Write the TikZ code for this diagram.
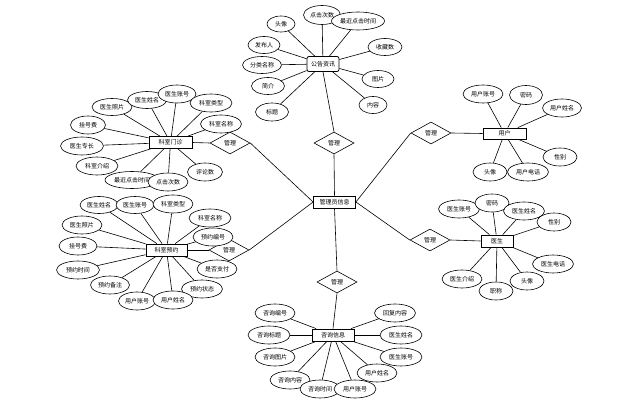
\documentclass[tikz,border=0pt]{standalone}
\usepackage{fontspec}
\newfontfamily\cjk{Noto Sans CJK SC}
\usetikzlibrary{shapes.geometric,backgrounds}
\begin{document}
\begin{tikzpicture}[x=1pt,y=-1pt,
  every node/.style={font=\cjk\fontsize{6}{7}\selectfont, inner sep=0pt},
  ent/.style={draw, fill=white, line width=0.8pt, minimum width=42pt, minimum height=12pt},
  attr/.style={draw, ellipse, fill=white, line width=0.6pt, minimum width=40pt, minimum height=18pt},
  rel/.style={draw, diamond, fill=white, line width=0.6pt, minimum width=40pt, minimum height=22pt},
  conn/.style={line width=0.6pt}]
\useasboundingbox (0,0) rectangle (625,409);

% center
\node[ent] (adm) at (334.5,202) {管理员信息};
% relations
\node[rel] (r1) at (334,143) {管理};
\node[rel] (r2) at (230,143) {管理};
\node[rel] (r3) at (229,250) {管理};
\node[rel] (r4) at (431,133) {管理};
\node[rel] (r5) at (430,240) {管理};
\node[rel] (r6) at (337,282) {管理};
% entities
\node[ent, rounded corners=2pt, minimum width=32pt, minimum height=15pt] (news) at (323,64) {公告资讯};
\node[ent, minimum width=43pt] (dept) at (170.5,142.5) {科室门诊};
\node[ent, minimum width=41pt] (appt) at (166.5,250) {科室预约};
\node[ent, minimum width=43pt, minimum height=11pt] (user) at (504.5,133.5) {用户};
\node[ent, minimum width=32pt] (doc) at (497,241) {医生};
\node[ent, minimum width=42pt] (cons) at (333,335) {咨询信息};

% news attributes
\node[attr, minimum width=28pt, minimum height=16pt] (n1) at (281,24) {头像};
\node[attr, minimum width=37pt, minimum height=19pt] (n2) at (322,15) {点击次数};
\node[attr, minimum width=53pt] (n3) at (358,21) {最近点击时间};
\node[attr, minimum width=34pt, minimum height=17pt] (n4) at (385,47) {收藏数};
\node[attr, minimum width=32pt, minimum height=17pt] (n5) at (378,79) {图片};
\node[attr, minimum width=28pt, minimum height=17pt] (n6) at (373,105) {内容};
\node[attr, minimum width=32pt, minimum height=17pt] (n7) at (264,45) {发布人};
\node[attr, minimum width=39pt, minimum height=17pt] (n8) at (262,65) {分类名称};
\node[attr, minimum width=33pt, minimum height=17pt] (n9) at (268,86) {简介};
\node[attr, minimum width=33pt] (n10) at (272,112) {标题};

% dept attributes
\node[attr, minimum width=40pt, minimum height=17pt] (d1) at (112,107) {医生照片};
\node[attr, minimum width=39pt, minimum height=17pt] (d2) at (147,100) {医生姓名};
\node[attr, minimum width=38pt] (d3) at (177,94) {医生账号};
\node[attr, minimum width=42pt] (d4) at (211,103) {科室类型};
\node[attr, minimum width=41pt] (d5) at (221,124) {科室名称};
\node[attr, minimum width=35pt] (d6) at (88,125) {挂号费};
\node[attr, minimum width=43pt] (d7) at (82,146) {医生专长};
\node[attr, minimum width=42pt] (d8) at (97,166) {科室介绍};
\node[attr, minimum width=54pt, minimum height=17pt] (d9) at (132,180) {最近点击时间};
\node[attr, minimum width=40pt] (d10) at (168,182) {点击次数};
\node[attr, minimum width=35pt] (d11) at (205,172) {评论数};

% appt attributes
\node[attr, minimum width=38pt, minimum height=17pt] (p1) at (99,205) {医生姓名};
\node[attr, minimum width=38pt, minimum height=17pt] (p2) at (135,205) {医生账号};
\node[attr, minimum width=40pt] (p3) at (173,204) {科室类型};
\node[attr, minimum width=42pt] (p4) at (210,218) {科室名称};
\node[attr, minimum width=40pt] (p5) at (213,237) {预约编号};
\node[attr, minimum width=40pt] (p6) at (217,269) {是否支付};
\node[attr, minimum width=41pt] (p7) at (202,289) {预约状态};
\node[attr, minimum width=37pt] (p9) at (137,301) {用户账号};
\node[attr, minimum width=40pt] (p8) at (173,300) {用户姓名};
\node[attr, minimum width=39pt] (p10) at (110,285) {预约备注};
\node[attr, minimum width=43pt] (p11) at (78,270) {预约时间};
\node[attr, minimum width=38pt] (p12) at (78,246) {挂号费};
\node[attr, minimum width=40pt] (p13) at (82,225) {医生照片};

% user attributes
\node[attr, minimum width=40pt] (u1) at (483,94) {用户账号};
\node[attr, minimum width=33pt, minimum height=19pt] (u2) at (526,95) {密码};
\node[attr, minimum width=39pt] (u3) at (562,108) {用户姓名};
\node[attr, minimum width=34pt] (u4) at (560,157) {性别};
\node[attr, minimum width=34pt] (u6) at (490,172) {头像};
\node[attr, minimum width=41pt] (u5) at (528,172) {用户电话};

% doc attributes
\node[attr, minimum width=41pt] (c1) at (459,209) {医生账号};
\node[attr, minimum width=34pt] (c2) at (492,203) {密码};
\node[attr, minimum width=41pt] (c3) at (524,211) {医生姓名};
\node[attr, minimum width=34pt] (c4) at (554,222) {性别};
\node[attr, minimum width=41pt] (c5) at (553,264) {医生电话};
\node[attr, minimum width=34pt] (c6) at (527,281) {头像};
\node[attr, minimum width=34pt] (c7) at (496,291) {职称};
\node[attr, minimum width=40pt] (c8) at (462,279) {医生介绍};

% cons attributes
\node[attr, minimum width=40pt] (s1) at (275,313) {咨询编号};
\node[attr, minimum width=42pt] (s2) at (269,335) {咨询标题};
\node[attr, minimum width=40pt] (s3) at (275,357) {咨询图片};
\node[attr, minimum width=40pt] (s4) at (290,380) {咨询内容};
\node[attr, minimum width=40pt] (s5) at (320,389) {咨询时间};
\node[attr, minimum width=42pt] (s6) at (355,389) {用户账号};
\node[attr, minimum width=40pt] (s7) at (377,373) {用户姓名};
\node[attr, minimum width=42pt] (s8) at (401,357) {医生账号};
\node[attr, minimum width=42pt] (s9) at (401,335) {医生姓名};
\node[attr, minimum width=41pt] (s10) at (395,313) {回复内容};

\begin{scope}[on background layer]
  \draw[conn] (r1.south) -- (adm.north);
  \draw[conn] (r1.north) -- (news.south);
  \draw[conn] (r2.east) -- (adm.west);
  \draw[conn] (dept.east) -- (r2.west);
  \draw[conn] (r3.east) -- (adm.west);
  \draw[conn] (appt.east) -- (r3.west);
  \draw[conn] (r4.west) -- (adm.east);
  \draw[conn] (r4.east) -- (user.west);
  \draw[conn] (r5.west) -- (adm.east);
  \draw[conn] (r5.east) -- (doc.west);
  \draw[conn] (r6.north) -- (adm.south);
  \draw[conn] (r6.south) -- (cons.north);
  \foreach \a in {n1,n2,n3,n4,n5,n6,n7,n8,n9,n10} \draw[conn] (news) -- (\a);
  \foreach \a in {d1,d2,d3,d4,d5,d6,d7,d8,d9,d10,d11} \draw[conn] (dept) -- (\a);
  \foreach \a in {p1,p2,p3,p4,p5,p6,p7,p8,p9,p10,p11,p12,p13} \draw[conn] (appt) -- (\a);
  \foreach \a in {u1,u2,u3,u4,u5,u6} \draw[conn] (user) -- (\a);
  \foreach \a in {c1,c2,c3,c4,c5,c6,c7,c8} \draw[conn] (doc) -- (\a);
  \foreach \a in {s1,s2,s3,s4,s5,s6,s7,s8,s9,s10} \draw[conn] (cons) -- (\a);
\end{scope}
\end{tikzpicture}
\end{document}
